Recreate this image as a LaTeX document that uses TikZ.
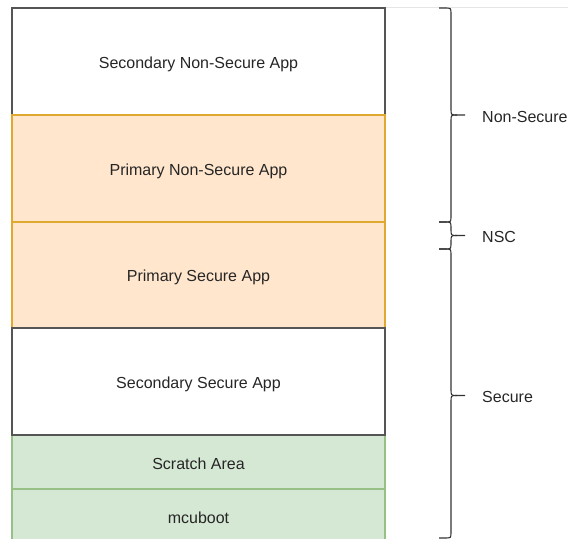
\documentclass[tikz,border=0pt]{standalone}
\usepackage{fontspec}
\setmainfont{Liberation Sans}
\definecolor{orfill}{HTML}{FFE6CC}
\definecolor{ordraw}{HTML}{E0A82E}
\definecolor{grfill}{HTML}{D5E8D4}
\definecolor{grdraw}{HTML}{97C085}
\definecolor{wdraw}{HTML}{555555}
\definecolor{brc}{HTML}{333333}
\tikzset{
  region/.style={line width=1.2bp, font=\fontsize{16bp}{19bp}\selectfont, text=black!85},
  whitebox/.style={region, draw=wdraw, fill=white},
  orangebox/.style={region, draw=ordraw, fill=orfill},
  greenbox/.style={region, draw=grdraw, fill=grfill},
  bracepath/.style={draw=brc, line width=1.1bp},
  bracelabel/.style={anchor=west, inner sep=0pt, font=\fontsize{16bp}{19bp}\selectfont, text=black!85}
}
\newcommand{\mybracedraw}[3]{%
  \draw[bracepath] (439,#1) -- (445,#1) .. controls (451,#1) .. (451,#1+6)
    -- (451,#3-6) .. controls (451,#3) .. (457,#3) -- (465,#3);
  \draw[bracepath] (457,#3) .. controls (451,#3) .. (451,#3+6)
    -- (451,#2-6) .. controls (451,#2) .. (445,#2) -- (439,#2);
}
\begin{document}
\begin{tikzpicture}[x=1bp,y=-1bp]
\useasboundingbox (0,0) rectangle (568,539);
\begin{scope}
\clip (0,0) rectangle (568,539);
\draw[black!10, line width=0.8bp] (385,7) -- (568,7);
\draw[whitebox] (12,8) rectangle (385,115);
\node[region] (secns) at (198.5,64) {Secondary Non-Secure App};
\draw[orangebox] (12,115) rectangle (385,222);
\node[region] (primns) at (198.5,171) {Primary Non-Secure App};
\draw[orangebox] (12,222) rectangle (385,328);
\node[region] (prims) at (198.5,277.5) {Primary Secure App};
\draw[greenbox] (12,435) rectangle (385,489);
\node[region] (scratch) at (198.5,464) {Scratch Area};
\draw[greenbox] (12,489) rectangle (385,545);
\node[region] (mcuboot) at (198.5,518) {mcuboot};
\draw[whitebox] (12,328) rectangle (385,435);
\node[region] (secs) at (198.5,384.5) {Secondary Secure App};
\mybracedraw{8}{222}{115}
\mybracedraw{222}{249}{235.5}
\mybracedraw{249}{538}{395.5}
\end{scope}
\node[bracelabel] (lns) at (482,116.5) {Non-Secure};
\node[bracelabel] (lnsc) at (482,236.5) {NSC};
\node[bracelabel] (lsec) at (482,396.5) {Secure};
\end{tikzpicture}
\end{document}
